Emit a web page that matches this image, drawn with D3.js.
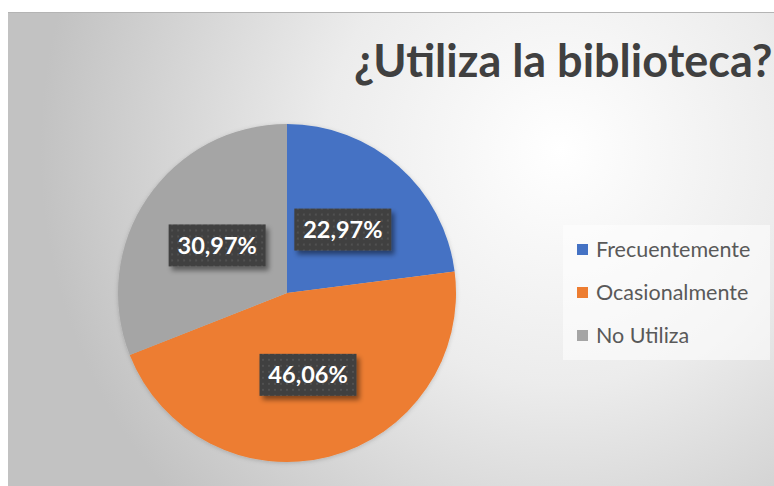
<!DOCTYPE html>
<html>
<head>
<meta charset="utf-8">
<script src="https://cdn.jsdelivr.net/npm/d3@7"></script>
<style>
  html, body { margin: 0; padding: 0; background: #ffffff; overflow: hidden; }
</style>
</head>
<body>
<div id="chart"></div>
<script>
// data
var categories = ["Frecuentemente", "Ocasionalmente", "No Utiliza"];
var values = [22.97, 46.06, 30.97];
var valueLabels = ["22,97%", "46,06%", "30,97%"];
var colors = ["#4472c4", "#ed7d31", "#a5a5a5"];
var titleText = "¿Utiliza la biblioteca?";

var width = 774, height = 486;

var svg = d3.select("#chart").append("svg")
    .attr("width", width)
    .attr("height", height);

var defs = svg.append("defs");

// background gradient
var bg = defs.append("radialGradient")
    .attr("id", "bgGrad")
    .attr("gradientUnits", "userSpaceOnUse")
    .attr("cx", 560).attr("cy", 150).attr("r", 520);
bg.append("stop").attr("offset", "0%").attr("stop-color", "#ffffff");
bg.append("stop").attr("offset", "45%").attr("stop-color", "#ececec");
bg.append("stop").attr("offset", "100%").attr("stop-color", "#c2c2c2");

// dotted texture for the labels
var pat = defs.append("pattern")
    .attr("id", "dots")
    .attr("patternUnits", "userSpaceOnUse")
    .attr("width", 6).attr("height", 6);
pat.append("rect").attr("width", 6).attr("height", 6).attr("fill", "#404040");
pat.append("rect").attr("x", 2).attr("y", 2).attr("width", 2).attr("height", 2).attr("fill", "#515151");

var shadow = defs.append("filter")
    .attr("id", "shadow")
    .attr("x", "-20%").attr("y", "-30%")
    .attr("width", "150%").attr("height", "180%");
shadow.append("feDropShadow")
    .attr("dx", 3).attr("dy", 4)
    .attr("stdDeviation", 2.5)
    .attr("flood-color", "#000000")
    .attr("flood-opacity", 0.45);

var pieShadow = defs.append("filter")
    .attr("id", "pieShadow")
    .attr("x", "-10%").attr("y", "-10%")
    .attr("width", "120%").attr("height", "120%");
pieShadow.append("feDropShadow")
    .attr("dx", 0).attr("dy", 1)
    .attr("stdDeviation", 2)
    .attr("flood-color", "#000000")
    .attr("flood-opacity", 0.18);

// chart area
svg.append("rect")
    .attr("x", 8).attr("y", 12)
    .attr("width", width - 8).attr("height", height - 12)
    .attr("fill", "url(#bgGrad)");
svg.append("line")
    .attr("x1", 8).attr("x2", width)
    .attr("y1", 12.5).attr("y2", 12.5)
    .attr("stroke", "#b4b4b4");

// title
svg.append("text")
    .attr("x", 354)
    .attr("y", 77)
    .style("font-family", "Lato, 'Open Sans', sans-serif")
    .style("font-weight", "bold")
    .style("font-size", "45px")
    .attr("fill", "#404040")
    .text(titleText);

// pie
var cx = 287, cy = 293, radius = 169;

var pie = d3.pie().sort(null).value(function(d) { return d; });
var arc = d3.arc().innerRadius(0).outerRadius(radius);
var arcs = pie(values);

var g = svg.append("g")
    .attr("transform", "translate(" + cx + "," + cy + ")");

g.append("g")
    .attr("filter", "url(#pieShadow)")
    .selectAll("path")
    .data(arcs)
    .enter()
    .append("path")
    .attr("d", arc)
    .attr("fill", function(d, i) { return colors[i]; });

// data labels
var boxW = 97, boxH = 42;
var lab = g.selectAll(".lab")
    .data(arcs)
    .enter()
    .append("g")
    .attr("class", "lab")
    .attr("transform", function(d) {
        var c = arc.centroid(d);
        return "translate(" + c[0] + "," + c[1] + ")";
    });

lab.append("rect")
    .attr("x", -boxW / 2).attr("y", -boxH / 2)
    .attr("width", boxW).attr("height", boxH)
    .attr("fill", "url(#dots)")
    .attr("filter", "url(#shadow)");

lab.append("text")
    .attr("text-anchor", "middle")
    .attr("dy", "0.36em")
    .style("font-family", "Lato, 'Open Sans', sans-serif")
    .style("font-weight", "bold")
    .style("font-size", "23.5px")
    .attr("fill", "#ffffff")
    .text(function(d, i) { return valueLabels[i]; });

// legend
var legend = svg.append("g");
legend.append("rect")
    .attr("x", 563).attr("y", 225)
    .attr("width", 207).attr("height", 135)
    .attr("fill", "#ffffff")
    .attr("fill-opacity", 0.55);

var rows = legend.selectAll(".row")
    .data(categories)
    .enter()
    .append("g")
    .attr("class", "row")
    .attr("transform", function(d, i) { return "translate(577," + (249 + i * 43) + ")"; });

rows.append("rect")
    .attr("x", 0).attr("y", -5)
    .attr("width", 11).attr("height", 11)
    .attr("fill", function(d, i) { return colors[i]; });

rows.append("text")
    .attr("x", 19)
    .attr("dy", "0.35em")
    .style("font-family", "Lato, 'Open Sans', sans-serif")
    .style("font-size", "21.5px")
    .attr("fill", "#595959")
    .text(function(d) { return d; });
</script>
</body>
</html>
